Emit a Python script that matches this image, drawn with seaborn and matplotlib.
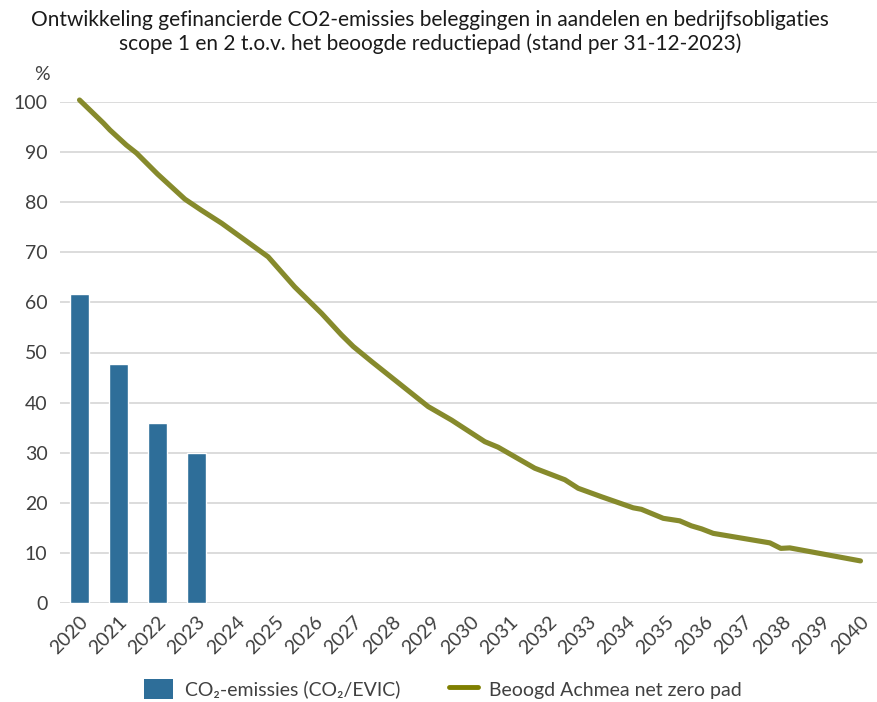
import matplotlib
matplotlib.use("Agg")
import matplotlib.pyplot as plt
import seaborn as sns
from matplotlib.patches import Patch
from matplotlib.lines import Line2D

# Data
bar_years = [2020, 2021, 2022, 2023]
bar_values = [61.7, 47.7, 36.0, 30.0]

path_years = [2020.0, 2020.61, 2020.78, 2021.2, 2021.46, 2022.0, 2022.70, 2023.12, 2023.64,
              2024.83, 2025.51, 2026.20, 2026.71, 2027.01, 2027.48, 2028.93, 2029.53,
              2030.38, 2030.72, 2031.66, 2032.43, 2032.77, 2033.37, 2034.18, 2034.39,
              2034.95, 2035.37, 2035.67, 2035.93, 2036.23, 2037.68, 2037.96, 2038.19, 2040.0]
path_values = [100.4, 95.8, 94.4, 91.4, 89.8, 85.6, 80.6, 78.4, 75.8,
               69.1, 63.1, 57.8, 53.5, 51.2, 48.2, 39.2, 36.5,
               32.2, 31.1, 26.9, 24.6, 22.9, 21.2, 19.0, 18.7,
               16.9, 16.4, 15.4, 14.8, 13.9, 12.0, 10.9, 11.0, 8.4]

tick_years = list(range(2020, 2041))
title = ("Ontwikkeling gefinancierde CO2-emissies beleggingen in aandelen en bedrijfsobligaties\n"
         "scope 1 en 2 t.o.v. het beoogde reductiepad (stand per 31-12-2023)")
bar_label = "CO\u2082-emissies (CO\u2082/EVIC)"
line_label = "Beoogd Achmea net zero pad"

sns.set_style("white")
plt.rcParams['font.family'] = ['Lato', 'DejaVu Sans']
text_color = "#404040"
bar_color = "#2E6E99"
line_color = "#868A2C"

fig = plt.figure(figsize=(8.77, 7.02), dpi=100)
ax = fig.add_axes([60/877, 1 - 603/702, 820/877, (603 - 102)/702])

sns.barplot(x=bar_years, y=bar_values, native_scale=True, width=0.5,
            color=bar_color, saturation=1, ax=ax, zorder=3)
sns.lineplot(x=path_years, y=path_values, color=line_color, linewidth=3.7,
             ax=ax, zorder=4, clip_on=False)

ax.set_xlim(2019.5, 2040.5)
ax.set_ylim(0, 100)
ax.set_yticks(range(0, 101, 10))
ax.set_xticks(tick_years)
ax.set_xticklabels([str(y) for y in tick_years], rotation=45, ha="right",
                   rotation_mode="anchor")
ax.tick_params(axis="both", labelsize=14, colors=text_color, length=0)
ax.tick_params(axis="x", pad=7)
ax.tick_params(axis="y", pad=9)
ax.yaxis.grid(True, color="#d9d9d9", linewidth=1.3, zorder=0)
ax.set_axisbelow(True)
for s in ax.spines.values():
    s.set_visible(False)
ax.set_xlabel("")
ax.set_ylabel("")

fig.text(42/877, 1 - 75/702, "%", fontsize=14, color=text_color, ha="center", va="center")
fig.text(0.49, 1 - 32/702, title, fontsize=15, color="#1a1a1a", ha="center", va="center",
         linespacing=1.15)

handles = [Patch(facecolor=bar_color, edgecolor="none"),
           Line2D([0], [0], color="#7F7F00", linewidth=3.5)]
fig.legend(handles, [bar_label, line_label], loc="center", bbox_to_anchor=(0.505, 1 - 689/702),
           ncol=2, frameon=False, fontsize=14, labelcolor=text_color,
           handlelength=1.5, handleheight=1.2, columnspacing=2.5, handletextpad=0.6)

fig.savefig("out.png", dpi=100)
